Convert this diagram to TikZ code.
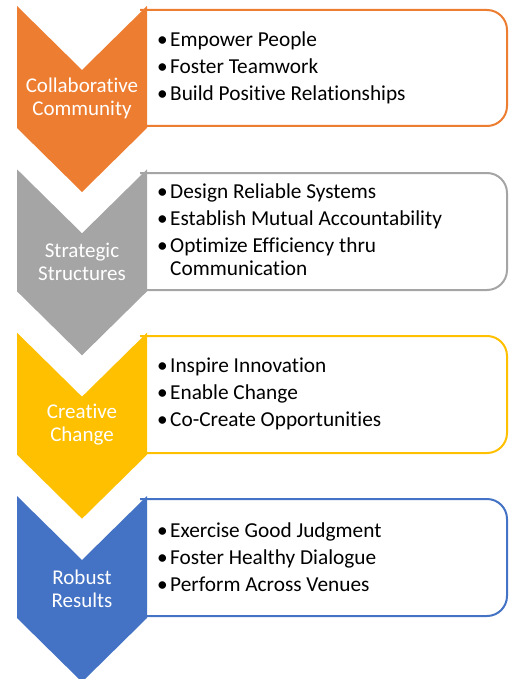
\documentclass[tikz,border=0pt]{standalone}
\usepackage{fontspec}
\setmainfont{Carlito}[Ligatures={NoCommon}]
\definecolor{accorange}{HTML}{ED7D31}
\definecolor{accgrey}{HTML}{A5A5A5}
\definecolor{accgold}{HTML}{FFC000}
\definecolor{accblue}{HTML}{4472C4}
\newcommand{\bul}{\makebox[13pt][l]{•}}
\newcommand{\chevronpath}[1]{(17,#1) -- (82,#1+64) -- (147,#1) -- (147,#1+122) -- (82,#1+186) -- (17,#1+122) -- cycle}
\tikzset{
  listbox/.style={line width=2pt, rounded corners=20pt, fill=white},
  stagelabel/.style={text=white, align=center, inner sep=0pt, font=\fontsize{21}{23}\selectfont},
  itemlist/.style={anchor=west, align=left, inner sep=0pt, font=\fontsize{21.3}{23}\selectfont}
}
\begin{document}
\begin{tikzpicture}[x=1pt, y=-1pt]
        \useasboundingbox (0,0) rectangle (509,679);
        \draw[listbox, draw=accorange] (140,10) -- (507,10) -- (507,126) -- (140,126);
        \fill[accorange] \chevronpath{6};
        \node[stagelabel] (lab1) at (82,98.5) {Collaborative\\Community};
        \node[itemlist] (list1) at (157,68) {\bul Empower People\\[4pt]\bul Foster Teamwork\\[4pt]\bul Build Positive Relationships};
        \draw[listbox, draw=accgrey] (140,173) -- (507,173) -- (507,290) -- (140,290);
        \fill[accgrey] \chevronpath{169.3};
        \node[stagelabel] (lab2) at (82,262) {Strategic\\Structures};
        \node[itemlist] (list2) at (157,230) {\bul Design Reliable Systems\\[4pt]\bul Establish Mutual Accountability\\[4pt]\bul Optimize Efficiency thru\\\makebox[13pt]{}Communication};
        \draw[listbox, draw=accgold] (140,336) -- (507,336) -- (507,453) -- (140,453);
        \fill[accgold] \chevronpath{332.7};
        \node[stagelabel] (lab3) at (82,425) {Creative\\Change};
        \node[itemlist] (list3) at (157,394) {\bul Inspire Innovation\\[4pt]\bul Enable Change\\[4pt]\bul Co-Create Opportunities};
        \draw[listbox, draw=accblue] (140,499) -- (507,499) -- (507,616) -- (140,616);
        \fill[accblue] \chevronpath{496};
        \node[stagelabel] (lab4) at (82,588.5) {Robust\\Results};
        \node[itemlist] (list4) at (157,557) {\bul Exercise Good Judgment\\[4pt]\bul Foster Healthy Dialogue\\[4pt]\bul Perform Across Venues};
\end{tikzpicture}
\end{document}
